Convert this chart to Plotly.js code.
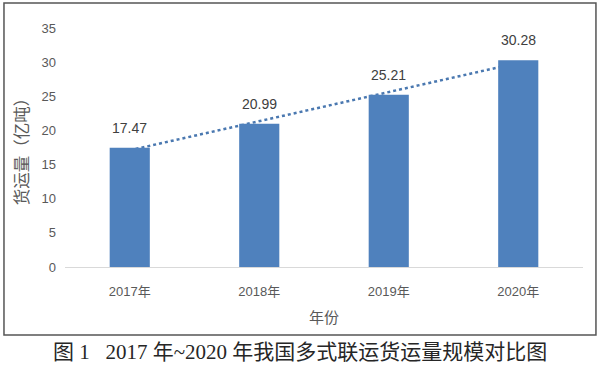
<!DOCTYPE html>
<html>
<head>
<meta charset="utf-8">
<script src="https://cdn.plot.ly/plotly-3.0.1.min.js"></script>
<style>html,body{margin:0;padding:0;background:#fff;}#chart{width:600px;height:370px;}</style>
</head>
<body>
<div id="chart"></div>
<script>
const categories = ["2017年", "2018年", "2019年", "2020年"];
const volumes = [17.47, 20.99, 25.21, 30.28];
const valueLabels = ["17.47", "20.99", "25.21", "30.28"];
const yTicks = [0, 5, 10, 15, 20, 25, 30, 35];

// Linear trendline (least squares over category index), as Excel draws it
const n = volumes.length;
const xi = volumes.map((_, i) => i);
const mx = xi.reduce((a, b) => a + b, 0) / n;
const my = volumes.reduce((a, b) => a + b, 0) / n;
let sxy = 0, sxx = 0;
for (let i = 0; i < n; i++) { sxy += (xi[i] - mx) * (volumes[i] - my); sxx += (xi[i] - mx) ** 2; }
const slope = sxy / sxx, icpt = my - slope * mx;
const trend = xi.map(i => icpt + slope * i);

const sansFont = '"Liberation Sans", "Noto Sans CJK SC", sans-serif';

const traces = [
  {
    type: 'scatter', mode: 'lines', x: categories, y: trend,
    xaxis: 'x', yaxis: 'y',
    line: {color: '#4a78b0', width: 2.5, dash: 'dot'},
    hoverinfo: 'skip', showlegend: false
  },
  {
    type: 'bar', x: categories, y: volumes,
    xaxis: 'x', yaxis: 'y2',
    marker: {color: '#4f81bd'},
    showlegend: false
  }
];

const annotations = categories.map((c, i) => ({
  x: c, y: volumes[i], xref: 'x', yref: 'y',
  text: valueLabels[i], showarrow: false, yshift: 20,
  font: {family: sansFont, size: 14, color: '#404040'}
}));
annotations.push({
  xref: 'paper', yref: 'paper', x: 0.4537, y: -0.356,
  xanchor: 'center', yanchor: 'middle', showarrow: false,
  text: '图 1   2017 年~2020 年我国多式联运货运量规模对比图',
  font: {family: '"Liberation Serif", "Noto Sans CJK SC", serif', size: 21, color: '#262626'}
});

const layout = {
  width: 600, height: 370,
  margin: {l: 65, r: 17, t: 28, b: 103},
  paper_bgcolor: '#ffffff', plot_bgcolor: 'rgba(0,0,0,0)',
  bargap: 0.69,
  showlegend: false,
  xaxis: {
    type: 'category', showgrid: false, zeroline: false,
    showline: true, linecolor: '#d9d9d9', linewidth: 1,
    ticks: '', ticklabelstandoff: 12,
    tickfont: {family: sansFont, size: 13, color: '#595959'},
    title: {text: '年份', standoff: 14, font: {family: sansFont, size: 15, color: '#595959'}}
  },
  yaxis: {
    range: [0, 35], tickvals: yTicks, showgrid: false, zeroline: false,
    showline: false, ticks: '', ticklabelstandoff: 8,
    tickfont: {family: sansFont, size: 13, color: '#595959'},
    title: {text: '货运量（亿吨）', standoff: 8, font: {family: sansFont, size: 16.5, color: '#595959'}}
  },
  yaxis2: {
    range: [0, 35], overlaying: 'y', visible: false, showgrid: false, zeroline: false
  },
  annotations: annotations,
  shapes: [{
    type: 'rect', xref: 'paper', yref: 'paper',
    x0: -0.1178, x1: 1.025, y0: -0.2845, y1: 1.1046,
    line: {color: '#555555', width: 1.5}, fillcolor: 'rgba(0,0,0,0)', layer: 'below'
  }]
};

Plotly.newPlot('chart', traces, layout, {staticPlot: true, displayModeBar: false});
</script>
</body>
</html>
